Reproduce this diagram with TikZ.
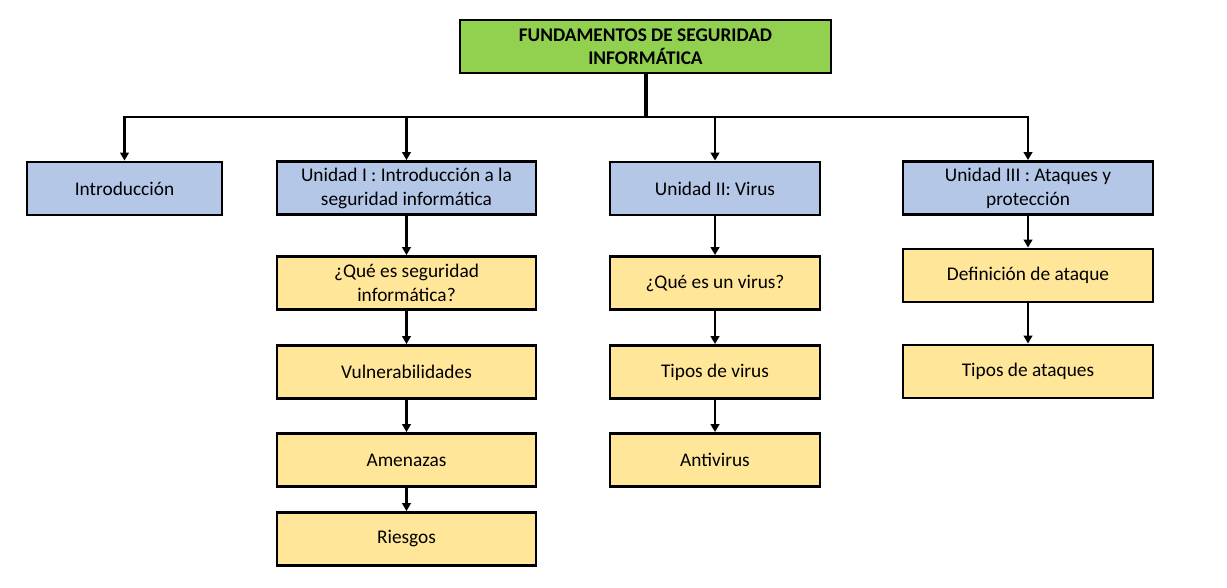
\documentclass[tikz,border=0pt]{standalone}
\usepackage{fontspec}
\setmainfont{Carlito}
\usetikzlibrary{arrows.meta}

\definecolor{titlegreen}{HTML}{92D050}
\definecolor{unitblue}{HTML}{B4C7E7}
\definecolor{topicyellow}{HTML}{FFE699}

\begin{document}
\begin{tikzpicture}[
  x=0.75pt, y=-0.75pt,
  every node/.style={draw, line width=1.9pt, align=center, minimum height=40pt, inner sep=1pt, font=\fontsize{14.5}{18}\selectfont},
  titlebox/.style={fill=titlegreen, minimum width=278pt, font=\bfseries\fontsize{14.5}{17.5}\selectfont},
  unitbox/.style={fill=unitblue},
  topicbox/.style={fill=topicyellow},
  arrow/.style={-{Triangle[length=6pt,width=6.5pt]}, line width=2pt}
]
\useasboundingbox (0,0) rectangle (1227,588);

\node (title) [titlebox] at (645.5,46.5) {FUNDAMENTOS DE SEGURIDAD\\INFORMÁTICA};
\coordinate (hub) at (645.5,117);

% units
\node (intro) [unitbox, minimum width=146pt] at (124.5,188.5) {Introducción};
\node (u1) [unitbox, minimum width=194pt] at (406.5,188) {Unidad I : Introducción a la\\seguridad informática};
\node (u2) [unitbox, minimum width=157.5pt] at (715,188.5) {Unidad II: Virus};
\node (u3) [unitbox, minimum width=187.5pt] at (1028,188) {Unidad III : Ataques y\\protección};

% topics
\node (segurinfo) [topicbox, minimum width=194pt] at (406.5,283) {¿Qué es seguridad\\informática?};
\node (vulner) [topicbox, minimum width=194pt] at (406.5,372) {Vulnerabilidades};
\node (amenaz) [topicbox, minimum width=194pt] at (406.5,460) {Amenazas};
\node (riesg) [topicbox, minimum width=194pt] at (406.5,539) {Riesgos};
\node (quevirus) [topicbox, minimum width=157.5pt] at (715,283) {¿Qué es un virus?};
\node (tipvirus) [topicbox, minimum width=157.5pt] at (715,372) {Tipos de virus};
\node (antivir) [topicbox, minimum width=157.5pt] at (715,460) {Antivirus};
\node (defatq) [topicbox, minimum width=187.5pt] at (1028,275.5) {Definición de ataque};
\node (tipatq) [topicbox, minimum width=187.5pt] at (1028,371.5) {Tipos de ataques};

\draw[line width=3pt] (title) -- (hub);
\draw[arrow] (hub) -| (intro);
\draw[arrow] (hub) -| (u1);
\draw[arrow] (hub) -| (u2);
\draw[arrow] (hub) -| (u3);
\draw[arrow] (u1) -- (segurinfo);
\draw[arrow] (segurinfo) -- (vulner);
\draw[arrow] (vulner) -- (amenaz);
\draw[arrow] (amenaz) -- (riesg);
\draw[arrow] (u2) -- (quevirus);
\draw[arrow] (quevirus) -- (tipvirus);
\draw[arrow] (tipvirus) -- (antivir);
\draw[arrow] (u3) -- (defatq);
\draw[arrow] (defatq) -- (tipatq);
\end{tikzpicture}
\end{document}
